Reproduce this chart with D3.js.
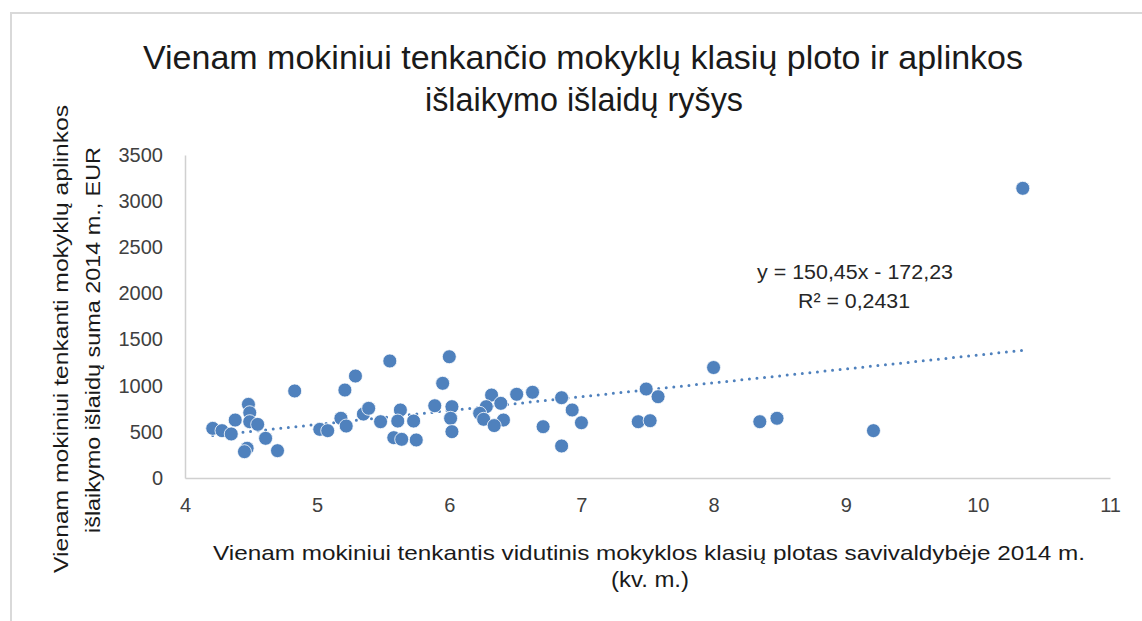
<!DOCTYPE html>
<html lang="lt">
  <head>
    <meta charset="UTF-8" />
    <title>Klasių ploto ir aplinkos išlaikymo išlaidų ryšys</title>
    <style>
      html, body { margin: 0; padding: 0; background: #fff; }
      svg text { font-family: "Liberation Sans Narrow", "Liberation Sans", Arial, sans-serif; }
      .dot { fill: #4f81bd; stroke: #fff; stroke-width: 0.8px; }
      .trend { fill: none; stroke: #4f81bd; stroke-width: 3px; stroke-linecap: round; stroke-dasharray: 0 7.6; }
      .axis .domain { stroke: #d0d0d0; stroke-width: 1.5px; }
      .axis text { fill: #404040; font-size: 20px; }
    </style>
  </head>
  <body>
    <script src="https://cdn.jsdelivr.net/npm/d3@7"></script>
    <script>
      /* global d3 */

      // classroom area per pupil, kv. m.
      const area = [
        4.21, 4.28, 4.35, 4.38, 4.48, 4.49, 4.49, 4.55, 4.47, 4.45,
        4.61, 4.70, 4.83, 5.02, 5.08, 5.21, 5.29, 5.18, 5.22, 5.35,
        5.39, 5.48, 5.55, 5.58, 5.64, 5.63, 5.61, 5.73, 5.75, 5.89,
        6.0, 5.95, 6.02, 6.01, 6.02, 6.32, 6.28, 6.23, 6.26, 6.39,
        6.41, 6.34, 6.51, 6.63, 6.71, 6.85, 6.93, 7.0, 6.85, 7.43,
        7.52, 7.49, 7.58, 8.0, 8.35, 8.48, 9.21, 10.34
      ];
      // environment upkeep cost per pupil, EUR
      const cost = [
        538, 513, 477, 628, 798, 707, 610, 581, 322, 285,
        430, 296, 943, 527, 513, 953, 1105, 647, 563, 693,
        755, 610, 1268, 437, 419, 737, 617, 617, 412, 783,
        1314, 1026, 773, 647, 502, 899, 773, 701, 636, 809,
        628, 568, 907, 929, 556, 870, 737, 599, 347, 610,
        621, 964, 881, 1197, 610, 647, 513, 3139
      ];
      const xTicks = [4, 5, 6, 7, 8, 9, 10, 11];
      const yTicks = [0, 500, 1000, 1500, 2000, 2500, 3000, 3500];
      const slope = 150.45,
        intercept = -172.23;

      const titleLines = ["Vienam mokiniui tenkančio mokyklų klasių ploto ir aplinkos", "išlaikymo išlaidų ryšys"];
      const yTitleLines = ["Vienam mokiniui tenkanti mokyklų aplinkos", "išlaikymo išlaidų suma 2014 m., EUR"];
      const xTitleLines = ["Vienam mokiniui tenkantis vidutinis mokyklos klasių plotas savivaldybėje 2014 m.", "(kv. m.)"];

      const width = 1142,
        height = 621;

      const svg = d3
        .select("body")
        .append("svg")
        .attr("width", width)
        .attr("height", height);

      // chart frame (only top/left edge visible in the crop)
      svg.append("path")
        .attr("d", "M11,621V13H1142")
        .attr("fill", "none")
        .attr("stroke", "#d9d9d9")
        .attr("stroke-width", 2);

      const x = d3.scaleLinear().domain([4, 11]).range([185, 1110]);
      const y = d3.scaleLinear().domain([0, 3500]).range([478, 155]);

      svg.append("g")
        .attr("class", "axis")
        .attr("transform", "translate(0,478)")
        .call(d3.axisBottom(x).tickValues(xTicks).tickSize(0).tickPadding(20).tickFormat(d3.format("d")))
        .call(g => g.selectAll("text").attr("dy", "0.71em"));

      svg.append("g")
        .attr("class", "axis")
        .attr("transform", "translate(185,0)")
        .call(d3.axisLeft(y).tickValues(yTicks).tickSize(0).tickPadding(22).tickFormat(d3.format("d")));

      // trend line over the data range
      const xr = d3.extent(area);
      svg.append("path")
        .attr("class", "trend")
        .attr("d", d3.line().x(d => x(d)).y(d => y(slope * d + intercept))(xr));

      const points = area.map((a, i) => ({ a: a, c: cost[i] }));
      svg.selectAll(".dot")
        .data(points)
        .join("circle")
        .attr("class", "dot")
        .attr("r", 7)
        .attr("cx", d => x(d.a))
        .attr("cy", d => y(d.c));

      // title
      const title = svg.append("g").attr("fill", "#1a1a1a").attr("font-size", 34).attr("text-anchor", "middle");
      title.append("text").attr("x", 583).attr("y", 69).attr("textLength", 880).attr("lengthAdjust", "spacingAndGlyphs").text(titleLines[0]);
      title.append("text").attr("x", 584).attr("y", 111).attr("textLength", 318).attr("lengthAdjust", "spacingAndGlyphs").text(titleLines[1]);

      // y axis title
      const yt = svg.append("g").attr("fill", "#1a1a1a").attr("font-size", 21).attr("text-anchor", "middle")
        .attr("transform", "rotate(-90)");
      yt.append("text").attr("x", -339).attr("y", 68).attr("textLength", 468).attr("lengthAdjust", "spacingAndGlyphs").text(yTitleLines[0]);
      yt.append("text").attr("x", -340).attr("y", 100).attr("textLength", 386).attr("lengthAdjust", "spacingAndGlyphs").text(yTitleLines[1]);

      // x axis title
      const xt = svg.append("g").attr("fill", "#1a1a1a").attr("font-size", 21).attr("text-anchor", "middle");
      xt.append("text").attr("x", 649).attr("y", 560).attr("textLength", 872).attr("lengthAdjust", "spacingAndGlyphs").text(xTitleLines[0]);
      xt.append("text").attr("x", 650).attr("y", 587).attr("font-size", 22).attr("textLength", 78).attr("lengthAdjust", "spacingAndGlyphs").text(xTitleLines[1]);

      // trend equation
      const eq = svg.append("g").attr("fill", "#262626").attr("font-size", 20).attr("text-anchor", "middle");
      eq.append("text").attr("x", 855).attr("y", 279).attr("textLength", 196).attr("lengthAdjust", "spacingAndGlyphs").text("y = 150,45x - 172,23");
      eq.append("text").attr("x", 854).attr("y", 308).attr("textLength", 112).attr("lengthAdjust", "spacingAndGlyphs").text("R² = 0,2431");
    </script>
  </body>
</html>
